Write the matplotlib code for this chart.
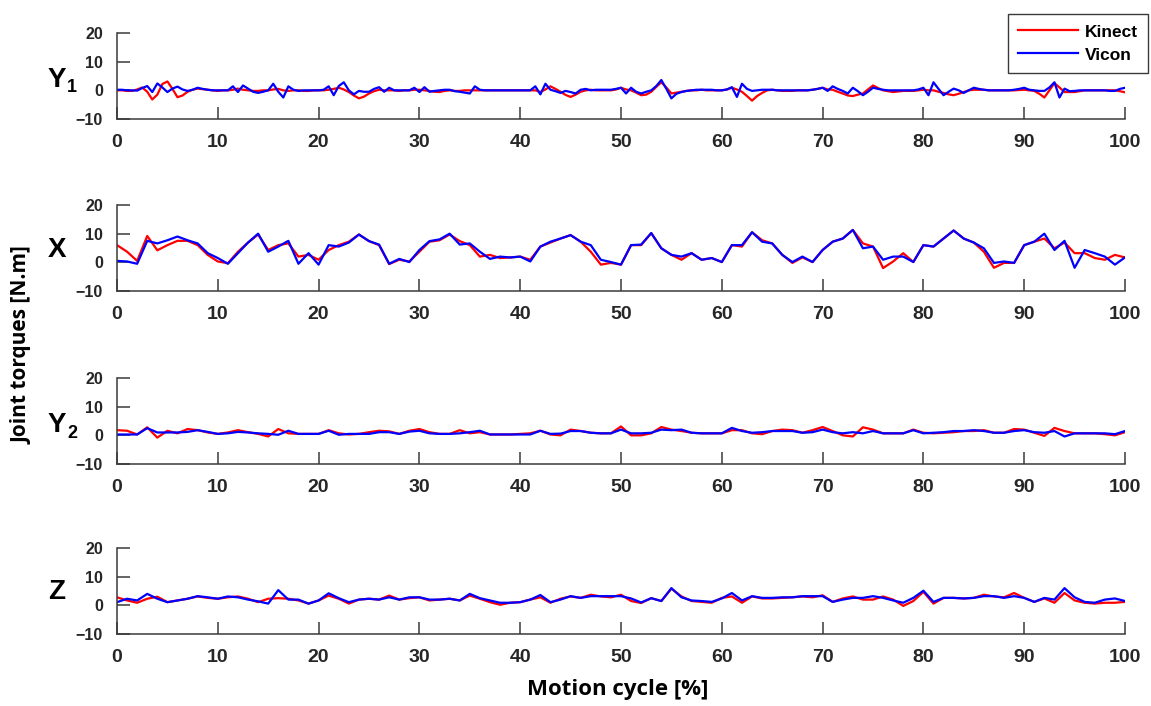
import numpy as np
import matplotlib

matplotlib.use("Agg")
import matplotlib.pyplot as plt

W, H = 1151, 706

# Y1 is read at 0.5 % steps (fast wiggles), the other panels at 1 % steps
cycle_half = np.arange(0, 100.5, 0.5)
cycle = np.arange(0, 101)

y1_kinect = [
    0, 0, -0.2, -0.2, 0.3, 1.0, -0.5, -3.2, -1.5, 2.2, 3.1, 0.5, -2.4, -1.8, -0.5, 0.2, 0.6, 0.4, 0.2, 0,
    -0.2, 0, 0, 0.2, 0.6, 0.2, 0, -0.2, -0.2, 0, 0, 0.3, 0.5, 0, -0.2, 0, 0, -0.2, -0.2, 0,
    0, 0, 0.2, 0.5, 0.9, 0.3, -0.6, -1.8, -2.8, -2.2, -1.1, -0.3, 0.2, 0, 0, 0, -0.2, 0, 0, 0.2,
    0.2, 0, -0.2, -0.5, -0.6, -0.2, 0, -0.2, -0.2, 0, 0, 0, 0, 0, 0, 0, 0, 0, 0, 0,
    0, 0, 0, 0, -0.6, 0.3, 1.4, 0.5, -0.5, -1.6, -2.3, -1.5, -0.5, 0, 0.2, 0, 0, 0, 0, 0.3,
    0.9, 0.3, 0, -0.8, -1.7, -1.5, -0.5, 1.2, 2.8, 1.0, -1.1, -0.8, -0.5, -0.2, 0, 0, 0.2, 0, 0, 0,
    0, 0.3, 0.9, 0.3, -0.5, -2.0, -3.6, -2.0, -0.9, 0, 0.2, 0, -0.2, -0.2, -0.2, 0, 0, 0, 0.2, 0.5,
    0.9, 0.3, 0.2, -0.5, -1.1, -1.8, -2.0, -1.5, -1.1, 0.3, 1.7, 0.8, 0, -0.3, -0.6, -0.4, -0.2, -0.2, -0.2, 0,
    0.2, 0, 0, -0.5, -0.9, -1.4, -1.7, -1.2, -0.6, 0, 0.2, 0.2, 0.2, 0, 0, 0, 0, 0, 0, 0.1,
    0.2, 0, -0.2, -1.2, -2.5, 0, 2.5, 1.0, -0.6, -0.6, -0.6, -0.3, 0, 0, 0, 0, 0, 0, 0, -0.3,
    -0.7,
]
y1_vicon = [
    0.2, 0.2, 0, 0, -0.1, 0.8, 1.5, -0.6, 2.4, 1.0, -0.6, 0.6, 1.3, 0.3, -0.2, 0.2, 0.9, 0.5, 0.2, 0,
    0, 0, 0, 1.4, -0.6, 1.7, 0.6, -0.5, -0.9, -0.5, 0, 2.3, -0.5, -2.5, 1.4, 0.2, -0.2, 0, 0, 0,
    0, 0.2, 1.4, -1.7, 1.5, 2.8, 0, -1.4, -0.2, -0.5, -0.5, 0.5, 1.1, -0.5, 0.9, 0, 0, 0, 0, 0.9,
    -0.6, 1.1, -0.5, -0.2, 0, 0.2, 0.2, -0.3, -0.5, -0.8, -1.1, 1.4, 0.2, 0, 0, 0, 0, 0, 0, 0,
    0, 0, 0, 1.4, -1.4, 2.3, 0.2, -0.3, -0.9, -0.2, -0.6, -1.1, 0.2, 0.5, 0, 0.2, 0.2, 0.2, 0.2, 0.5,
    0.9, -1.1, 0.9, -0.5, -1.1, -0.5, 0, 1.5, 3.6, 0.5, -2.8, -1.2, -0.6, -0.2, 0, 0.2, 0.2, 0.2, 0.2, 0,
    0, 0.3, 1.1, -2.3, 2.3, 0.5, -0.2, 0, 0.2, 0.2, 0.2, 0, 0, 0, 0, 0, 0, 0, 0.2, 0.5,
    0.9, -0.2, 1.4, 0.5, -0.2, -1.1, 0.9, -0.3, -1.7, -0.5, 0.9, 0.5, 0.2, 0, 0, 0, 0, 0, 0, 0.3,
    0.9, -1.7, 2.8, 0.5, -1.7, -0.5, 0.6, 0, -0.9, 0, 0.9, 0.5, 0.2, 0, 0, 0, 0, 0, 0.2, 0.5,
    0.9, 0.2, 0, -0.2, -0.2, 1.0, 2.8, -2.5, 0.6, -0.3, -0.2, 0, 0, 0, 0, 0, 0, -0.2, -0.2, 0.5,
    0.9,
]

x_kinect = [
    6.0, 3.7, 0.5, 9.2, 4.2, 6.0, 7.5, 7.5, 6.0, 2.6,
    0.3, -0.3, 3.7, 6.9, 9.7, 4.3, 6.0, 6.6, 2.0, 2.6,
    0.9, 4.3, 6.0, 7.2, 9.7, 7.4, 6.0, -0.6, 0.9, 0.3,
    3.7, 7.2, 7.7, 9.7, 7.4, 6.0, 2.0, 2.6, 1.5, 1.7,
    2.0, 0.9, 5.5, 6.9, 8.3, 9.5, 7.2, 3.7, -0.8, -0.2,
    -0.8, 6.0, 6.0, 10.2, 4.9, 2.6, 0.9, 3.2, 0.9, 1.5,
    0.1, 6.0, 5.5, 10.5, 7.7, 6.6, 2.6, -0.2, 1.7, 0.1,
    4.3, 7.2, 8.3, 11.3, 6.6, 5.5, -2.0, 0.3, 3.2, 0.1,
    6.0, 5.5, 8.3, 11.1, 8.3, 6.9, 3.7, -1.9, -0.2, -0.2,
    6.0, 7.2, 8.3, 4.9, 6.9, 3.2, 3.2, 1.5, 0.9, 2.6,
    1.7,
]
x_vicon = [
    0.5, 0.3, -0.5, 7.5, 6.6, 7.7, 9.0, 7.7, 6.6, 3.2,
    1.5, -0.5, 3.2, 6.9, 10.0, 3.7, 5.5, 7.5, -0.5, 3.2,
    -0.8, 6.0, 5.5, 6.9, 9.7, 7.4, 6.2, -0.5, 1.2, 0.1,
    4.3, 7.4, 8.0, 10.0, 6.2, 6.6, 3.7, 1.2, 2.0, 1.7,
    2.0, 0.3, 5.5, 7.2, 8.3, 9.5, 7.2, 6.0, 0.9, 0.1,
    -0.8, 6.0, 6.2, 10.2, 4.9, 2.6, 2.0, 3.2, 0.9, 1.5,
    0.1, 6.0, 6.0, 10.5, 7.2, 6.6, 2.6, 0.1, 2.0, 0.1,
    4.3, 7.2, 8.3, 11.3, 4.9, 5.5, 0.9, 2.0, 2.0, 0.1,
    6.0, 5.5, 8.3, 11.1, 8.3, 6.9, 4.9, -0.2, 0.3, -0.2,
    6.0, 7.2, 10.0, 4.3, 7.5, -1.9, 4.3, 3.2, 2.0, -0.8,
    1.7,
]

y2_kinect = [
    1.8, 1.6, 0.3, 2.8, -0.8, 1.6, 0.7, 2.2, 1.8, 1.0,
    0.5, 1.0, 1.8, 1.1, 0.5, -0.4, 2.2, 0.7, 0.5, 0.5,
    0.5, 1.8, 0.7, 0.3, 0.5, 1.1, 1.6, 1.4, 0.5, 1.6,
    2.2, 1.1, 0.5, 0.5, 1.8, 0.7, 1.1, 0.3, 0.3, 0.3,
    0.5, 0.7, 1.6, 0.3, 0.0, 2.0, 1.5, 0.9, 0.7, 0.7,
    3.1, 0.0, 0.0, 0.7, 2.9, 2.0, 1.5, 0.9, 0.7, 0.7,
    0.7, 1.8, 1.8, 0.7, 0.4, 1.5, 2.0, 1.8, 0.9, 1.8,
    2.9, 1.5, 0.0, -0.4, 2.8, 2.0, 0.7, 0.7, 0.7, 2.0,
    0.9, 0.7, 0.9, 1.1, 1.5, 1.5, 1.8, 0.9, 0.9, 2.2,
    2.0, 0.9, -0.2, 2.6, 1.5, 0.7, 0.7, 0.7, 0.4, 0.0,
    1.1,
]
y2_vicon = [
    0.3, 0.3, 0.3, 2.5, 1.0, 1.0, 1.0, 1.2, 1.8, 1.2,
    0.5, 0.7, 1.2, 1.0, 0.7, 0.5, 0.2, 1.6, 0.5, 0.5,
    0.5, 1.6, 0.2, 0.5, 0.5, 0.5, 1.1, 1.1, 0.5, 1.3,
    1.6, 0.7, 0.5, 0.5, 0.7, 1.1, 1.6, 0.3, 0.3, 0.3,
    0.3, 0.3, 1.6, 0.5, 0.6, 1.5, 1.5, 0.9, 0.7, 0.7,
    2.0, 0.7, 0.7, 0.9, 2.0, 1.8, 2.0, 0.9, 0.7, 0.7,
    0.7, 2.6, 1.5, 0.9, 1.1, 1.5, 1.5, 1.5, 0.9, 1.1,
    2.0, 1.1, 0.7, 1.1, 0.7, 1.5, 0.7, 0.7, 0.7, 1.8,
    0.7, 0.9, 1.1, 1.5, 1.5, 1.8, 1.5, 0.9, 0.9, 1.5,
    1.8, 1.1, 0.9, 1.5, -0.4, 0.7, 0.7, 0.7, 0.7, 0.4,
    1.5,
]

z_kinect = [
    2.8, 1.7, 0.9, 2.3, 3.0, 1.1, 1.7, 2.3, 3.1, 2.6,
    2.3, 2.8, 3.1, 2.3, 1.1, 2.3, 2.5, 2.3, 1.7, 0.6,
    1.7, 3.4, 2.3, 0.6, 2.0, 2.3, 2.0, 3.4, 2.0, 2.5,
    2.8, 1.7, 2.0, 2.3, 1.7, 3.4, 2.3, 1.1, 0.2, 0.9,
    1.1, 2.0, 2.8, 0.9, 2.3, 3.1, 2.6, 3.7, 3.1, 2.8,
    3.7, 1.5, 0.8, 2.5, 1.5, 5.8, 3.1, 1.5, 1.2, 0.9,
    2.6, 3.1, 0.9, 3.1, 2.4, 2.4, 2.6, 2.8, 3.1, 2.8,
    3.5, 1.2, 2.4, 3.1, 2.0, 2.0, 3.1, 2.0, -0.2, 1.5,
    4.7, 0.6, 2.6, 2.6, 2.4, 2.6, 3.7, 3.1, 2.8, 4.3,
    2.6, 1.2, 2.4, 0.9, 4.3, 1.7, 0.9, 0.6, 0.9, 0.9,
    1.2,
]
z_vicon = [
    1.1, 2.3, 1.7, 4.0, 2.3, 1.1, 1.7, 2.3, 3.2, 2.8,
    2.3, 3.1, 2.8, 2.0, 1.4, 0.6, 5.3, 2.0, 2.0, 0.6,
    1.7, 4.2, 2.5, 1.1, 2.0, 2.3, 2.0, 2.8, 2.0, 2.8,
    2.8, 2.0, 2.0, 2.3, 1.7, 4.0, 2.5, 1.7, 0.9, 0.9,
    1.1, 2.0, 3.6, 1.1, 2.0, 3.2, 2.6, 3.2, 3.2, 3.2,
    3.2, 2.4, 1.0, 2.5, 1.5, 6.0, 2.8, 1.7, 1.5, 1.2,
    2.4, 4.3, 1.7, 3.2, 2.6, 2.6, 2.8, 2.8, 3.2, 3.2,
    3.2, 1.2, 2.0, 2.6, 2.6, 3.2, 2.6, 1.7, 0.9, 2.6,
    5.1, 1.2, 2.6, 2.6, 2.4, 2.6, 3.2, 3.2, 2.6, 3.2,
    2.6, 1.2, 2.6, 2.0, 6.0, 2.8, 1.2, 0.9, 2.0, 2.4,
    1.5,
]

y_ticks = [-10, 0, 10, 20]
x_ticks = list(range(0, 101, 10))

AX_COL = "#3a3a3a"
TXT_COL = "#262626"
TICK_FONT = "Liberation Sans"
LABEL_FONT = "Open Sans"


def px(x, y):
    """pixel (from top-left) -> figure fraction"""
    return x / W, 1 - y / H


def main():
    fig = plt.figure(figsize=(W / 100, H / 100), dpi=100)

    # (x grid, kinect, vicon, name, subscript, top pixel, label centre y pixel)
    panels = [
        (cycle_half, y1_kinect, y1_vicon, "Y", "1", 33, 80),
        (cycle, x_kinect, x_vicon, "X", None, 205, 250),
        (cycle, y2_kinect, y2_vicon, "Y", "2", 378, 425),
        (cycle, z_kinect, z_vicon, "Z", None, 548, 592),
    ]
    left, right, ph = 117, 1125, 86

    axes = []
    for xs, kin, vic, name, sub, top, cy in panels:
        ax = fig.add_axes([left / W, 1 - (top + ph) / H, (right - left) / W, ph / H])
        ax.plot(xs, kin, color="#ff0000", lw=1.6, solid_joinstyle="round", label="Kinect")
        ax.plot(xs, vic, color="#0000ff", lw=1.6, solid_joinstyle="round", label="Vicon")
        ax.set_xlim(0, 100)
        ax.set_ylim(-10, 20)
        ax.set_xticks(x_ticks)
        ax.set_yticks(y_ticks)
        for s in ("top", "right"):
            ax.spines[s].set_visible(False)
        for s in ("left", "bottom"):
            ax.spines[s].set_color(AX_COL)
            ax.spines[s].set_linewidth(1.1)
        ax.tick_params(axis="both", direction="in", length=9, width=1.1, color=AX_COL)
        ax.tick_params(axis="x", pad=11)
        ax.tick_params(axis="y", pad=10)
        for lab in ax.get_xticklabels():
            lab.set(fontfamily=TICK_FONT, fontweight="bold", fontsize=14, color=TXT_COL)
        for lab in ax.get_yticklabels():
            lab.set(fontfamily=TICK_FONT, fontweight="bold", fontsize=11.5, color=TXT_COL)

        # panel name on the left, with a subscript where needed
        fig.text(*px(57, cy), name, fontfamily=TICK_FONT, fontweight="bold", fontsize=20,
                 color="black", ha="center", va="center")
        if sub:
            fig.text(*px(72, cy + 8), sub, fontfamily=TICK_FONT, fontweight="bold",
                     fontsize=13, color="black", ha="center", va="center")
        axes.append(ax)

    leg = axes[0].legend(loc="upper right", bbox_to_anchor=px(1148, 14),
                         bbox_transform=fig.transFigure, borderaxespad=0,
                         handlelength=3.4, handletextpad=0.4, labelspacing=0.45,
                         borderpad=0.6, fancybox=False, framealpha=1,
                         edgecolor=AX_COL, prop={"family": TICK_FONT, "weight": "bold", "size": 12.5})
    leg.get_frame().set_linewidth(1.0)

    fig.text(*px(22, 345), "Joint torques [N.m]", rotation=90, fontfamily=LABEL_FONT,
             fontweight="bold", fontsize=15, color="black", ha="center", va="center")
    fig.text(*px(618, 690), "Motion cycle [%]", fontfamily=LABEL_FONT,
             fontweight="bold", fontsize=16, color="black", ha="center", va="center")

    fig.savefig("out.png", dpi=100)


if __name__ == "__main__":
    main()
